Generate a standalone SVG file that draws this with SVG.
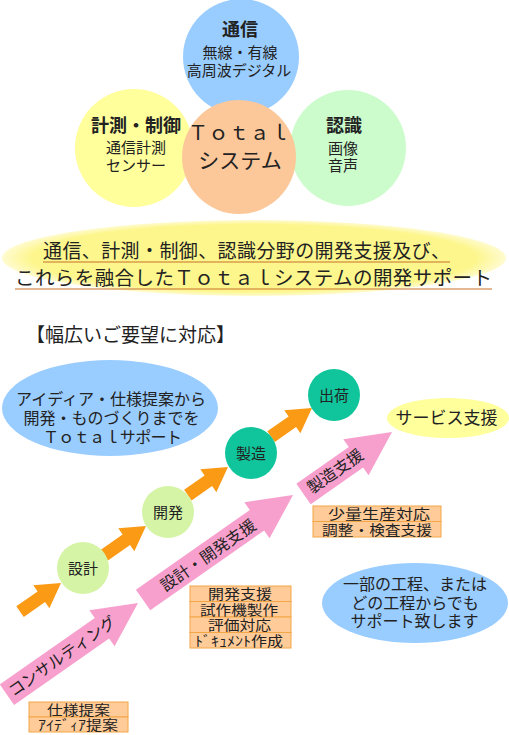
<svg xmlns="http://www.w3.org/2000/svg" width="509" height="735" viewBox="0 0 509 735">
<defs>
<radialGradient id="bannerGrad" cx="0.5" cy="0.5" r="0.5">
<stop offset="0" stop-color="#fdf68c"/>
<stop offset="0.88" stop-color="#fdf68c"/>
<stop offset="1" stop-color="#fffbd0"/>
</radialGradient>
<style>
text { font-family: "Noto Sans CJK JP", "Noto Sans", sans-serif; fill: #222; }
.t15 { font-size: 15px; text-anchor: middle; }
.t16 { font-size: 16px; text-anchor: middle; }
.bx { font-size: 13.5px; text-anchor: middle; }
.title { font-size: 18px; font-weight: bold; text-anchor: middle; }
.pink { fill: #f7a0cd; }
.orange { fill: #fb9a14; }
.teal { fill: #10c59b; }
.lgreen { fill: #d5f4a6; }
.box { fill: #ffcb98; stroke: #f3a646; stroke-width: 1; }
.uline { stroke: #c8702a; stroke-width: 1.2; }
</style>
</defs>
<rect width="509" height="735" fill="#ffffff"/>

<g id="circle-tsushin">
<circle cx="241" cy="57" r="58" fill="#99ccff"/>
<text class="title" x="240" y="36">通信</text>
<text class="t15" x="240" y="58">無線・有線</text>
<text class="t15" x="239" y="76">高周波デジタル</text>
</g>
<g id="circle-keisoku">
<circle cx="134" cy="148" r="59" fill="#ffff9c"/>
<text class="title" x="136" y="132">計測・制御</text>
<text class="t15" x="136" y="153">通信計測</text>
<text class="t15" x="136" y="171">センサー</text>
</g>
<g id="circle-ninshiki">
<circle cx="348" cy="148" r="58" fill="#ccfccc"/>
<text class="title" x="344" y="132">認識</text>
<text class="t15" x="343" y="154">画像</text>
<text class="t15" x="343" y="171">音声</text>
</g>
<g id="circle-total">
<circle cx="239" cy="157" r="57" fill="#fcc89a"/>
<text x="239" y="140" style="font-size:20px;text-anchor:middle" textLength="102" lengthAdjust="spacing">Ｔｏｔａｌ</text>
<text x="240" y="168" style="font-size:21px;text-anchor:middle">システム</text>
</g>

<g id="banner">
<ellipse cx="254" cy="258" rx="252" ry="38" fill="url(#bannerGrad)"/>
<text x="246.5" y="258" style="font-size:19px;text-anchor:middle" textLength="407" lengthAdjust="spacing">通信、計測・制御、認識分野の開発支援及び、</text>
<line class="uline" x1="43" y1="262" x2="450" y2="262"/>
<text x="253.5" y="285" style="font-size:19.5px;text-anchor:middle" textLength="477" lengthAdjust="spacing">これらを融合したＴｏｔａｌシステムの開発サポート</text>
<line class="uline" x1="15" y1="289" x2="492" y2="289"/>
</g>

<g id="heading">
<text x="26" y="342" style="font-size:19px">【幅広いご要望に対応】</text>
</g>

<g id="ellipse-total-support">
<ellipse cx="110" cy="408" rx="108" ry="48" fill="#99ccff"/>
<text class="t16" x="111" y="405">アイディア・仕様提案から</text>
<text class="t16" x="111.5" y="424">開発・ものづくりまでを</text>
<text class="t16" x="112.5" y="443" textLength="139" lengthAdjust="spacing">Ｔｏｔａｌサポート</text>
</g>

<g id="connectors">
<g id="arrow-orange-1" transform="translate(61,583) rotate(-35)"><polygon class="orange" points="0,0 -24,-14 -24,-6.5 -50,-6.5 -50,6.5 -24,6.5 -24,14"/></g>
<g id="arrow-orange-2" transform="translate(146,526) rotate(-35)"><polygon class="orange" points="0,0 -24,-14 -24,-6.5 -51,-6.5 -51,6.5 -24,6.5 -24,14"/></g>
<g id="arrow-orange-3" transform="translate(228,467) rotate(-35)"><polygon class="orange" points="0,0 -24,-14 -24,-6.5 -49,-6.5 -49,6.5 -24,6.5 -24,14"/></g>
<g id="arrow-orange-4" transform="translate(312,408) rotate(-35)"><polygon class="orange" points="0,0 -24,-14 -24,-6.5 -50,-6.5 -50,6.5 -24,6.5 -24,14"/></g>

<g id="arrow-consulting" transform="translate(138,603) rotate(-35)"><polygon class="pink" points="0,0 -44,-22 -44,-12.5 -160,-12.5 -160,12.5 -44,12.5 -44,22"/></g>
<g id="arrow-dev" transform="translate(293,495) rotate(-35)"><polygon class="pink" points="0,0 -44,-22 -44,-12.5 -183,-12.5 -183,12.5 -44,12.5 -44,22"/></g>
<g id="arrow-mfg" transform="translate(392,432) rotate(-35)"><polygon class="pink" points="0,0 -44,-22 -44,-12.5 -108,-12.5 -108,12.5 -44,12.5 -44,22"/></g>
<text class="t16" transform="translate(62,656) rotate(-35)" y="6">コンサルティング</text>
<text class="t16" transform="translate(208,555) rotate(-35)" y="6">設計・開発支援</text>
<text class="t16" transform="translate(335,471) rotate(-35)" y="6">製造支援</text>
</g>

<g id="stage-sekkei">
<circle class="lgreen" cx="83" cy="568" r="26"/>
<text class="t15" x="83" y="573.5">設計</text>
</g>
<g id="stage-kaihatsu">
<circle class="lgreen" cx="168" cy="512" r="26"/>
<text class="t15" x="168" y="517.5">開発</text>
</g>
<g id="stage-seizo">
<circle class="teal" cx="251" cy="453" r="26"/>
<text class="t15" x="251" y="458.5">製造</text>
</g>
<g id="stage-shukka">
<circle class="teal" cx="334" cy="395" r="26"/>
<text class="t15" x="334" y="400.5">出荷</text>
</g>

<g id="service-support">
<ellipse cx="448" cy="418" rx="61" ry="20" fill="#ffff9c"/>
<text x="446.5" y="423.5" style="font-size:17px;text-anchor:middle">サービス支援</text>
</g>

<g id="box-mfg">
<rect class="box" x="313" y="506" width="128" height="15.5"/>
<rect class="box" x="313" y="521.5" width="128" height="15.5"/>
<text class="bx" x="379" y="519" textLength="102" lengthAdjust="spacingAndGlyphs">少量生産対応</text>
<text class="bx" x="377" y="534.5" textLength="110" lengthAdjust="spacingAndGlyphs">調整・検査支援</text>
</g>

<g id="box-dev">
<rect class="box" x="190" y="586" width="101" height="15.5"/>
<rect class="box" x="190" y="601.5" width="101" height="15.5"/>
<rect class="box" x="190" y="617" width="101" height="15.5"/>
<rect class="box" x="190" y="632.5" width="101" height="15.5"/>
<text class="bx" x="240" y="599" textLength="64" lengthAdjust="spacingAndGlyphs">開発支援</text>
<text class="bx" x="239" y="614.5" textLength="78" lengthAdjust="spacingAndGlyphs">試作機製作</text>
<text class="bx" x="239.5" y="630" textLength="63" lengthAdjust="spacingAndGlyphs">評価対応</text>
<text class="bx" x="239" y="645.5" textLength="88" lengthAdjust="spacingAndGlyphs">ﾄﾞｷｭﾒﾝﾄ作成</text>
</g>

<g id="box-consult">
<rect class="box" x="29" y="702" width="99" height="15"/>
<rect class="box" x="29" y="717" width="99" height="15"/>
<text class="bx" x="78.5" y="715" textLength="63" lengthAdjust="spacingAndGlyphs">仕様提案</text>
<text class="bx" x="78" y="730" textLength="80" lengthAdjust="spacingAndGlyphs">ｱｲﾃﾞｨｱ提案</text>
</g>

<g id="ellipse-partial">
<ellipse cx="415" cy="603" rx="93" ry="40" fill="#99ccff"/>
<text class="t16" x="415" y="590">一部の工程、または</text>
<text class="t16" x="415" y="608.5">どの工程からでも</text>
<text class="t16" x="414.5" y="627">サポート致します</text>
</g>
</svg>
